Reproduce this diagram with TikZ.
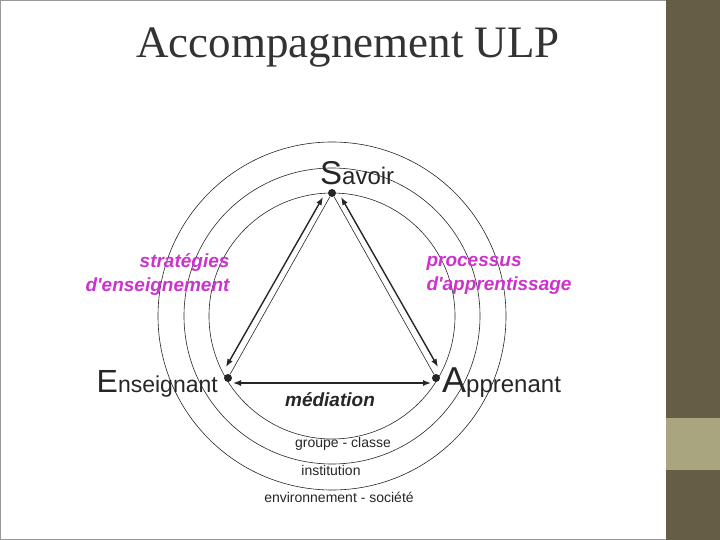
\documentclass[tikz,border=0pt]{standalone}
\usepackage{fontspec}
\setmainfont{Liberation Serif}
\newfontfamily\arial{Liberation Sans}
\usetikzlibrary{arrows.meta,calc}
\definecolor{strip}{HTML}{655D46}
\definecolor{band}{HTML}{A9A67F}
\definecolor{mag}{HTML}{CC33CC}
\begin{document}
\begin{tikzpicture}[x=1pt,y=-1pt,
  ring/.style={draw=black!85,line width=0.6pt},
  thin/.style={draw=black!85,line width=0.6pt},
  arr/.style={draw=black!85,line width=1.4pt,{Latex[length=8pt,width=6pt]}-{Latex[length=8pt,width=6pt]}},
  dotn/.style={circle,fill=black!85,inner sep=0pt,minimum size=8pt},
  lbl/.style={font=\arial,text=black!85},
  magl/.style={font=\arial\bfseries\itshape\fontsize{19}{24}\selectfont,text=mag,align=right}]
\useasboundingbox (0,0) rectangle (720,540);
\fill[white] (0,0) rectangle (666,540);
\draw[black!40] (0.5,0.5) rectangle (666,539.5);
\fill[strip] (666,0) rectangle (720,540);
\fill[band] (666,418) rectangle (720,470);
\node[font=\fontsize{45}{48}\selectfont,text=black!80] (title) at (348,48) {Accompagnement ULP};
\coordinate (c) at (332,316);
\draw[ring] (c) circle[radius=123];
\draw[ring] (c) circle[radius=148];
\draw[ring] (c) circle[radius=174];
\node[dotn] (S) at (332,193) {};
\node[dotn] (E) at (228,378) {};
\node[dotn] (A) at (436,378) {};
\draw[thin] (S) -- (E);
\draw[thin] (S) -- (A);
\coordinate (l1) at (323,197); \coordinate (l2) at (226,367);
\coordinate (r1) at (341,197); \coordinate (r2) at (438,367);
\coordinate (b1) at (233,383); \coordinate (b2) at (431,383);
\draw[arr] (l1) -- (l2);
\draw[arr] (r1) -- (r2);
\draw[arr] (b1) -- (b2);
\node[lbl,anchor=base west,inner sep=0pt] (sav) at (320,185) {\fontsize{33}{33}\selectfont S\fontsize{24}{24}\selectfont avoir};
\node[lbl,anchor=base east,inner sep=0pt] (ens) at (218,392) {\fontsize{32}{32}\selectfont E\fontsize{23}{23}\selectfont nseignant};
\node[lbl,anchor=base west,inner sep=0pt] (app) at (442,392) {\fontsize{36}{36}\selectfont A\fontsize{24}{24}\selectfont pprenant};
\node[magl,anchor=east] (strat) at (233,275) {stratégies\\d'enseignement};
\node[magl,anchor=west,align=left] (proc) at (423,275) {processus\\d'apprentissage};
\node[lbl,font=\arial\bfseries\itshape\fontsize{19}{21}\selectfont] (med) at (330,400) {médiation};
\node[lbl,font=\arial\fontsize{14}{16}\selectfont] (g) at (343,444) {groupe - classe};
\node[lbl,font=\arial\fontsize{14}{16}\selectfont] (i) at (331,470) {institution};
\node[lbl,font=\arial\fontsize{14}{16}\selectfont] (e) at (339,497) {environnement - société};
\end{tikzpicture}
\end{document}
